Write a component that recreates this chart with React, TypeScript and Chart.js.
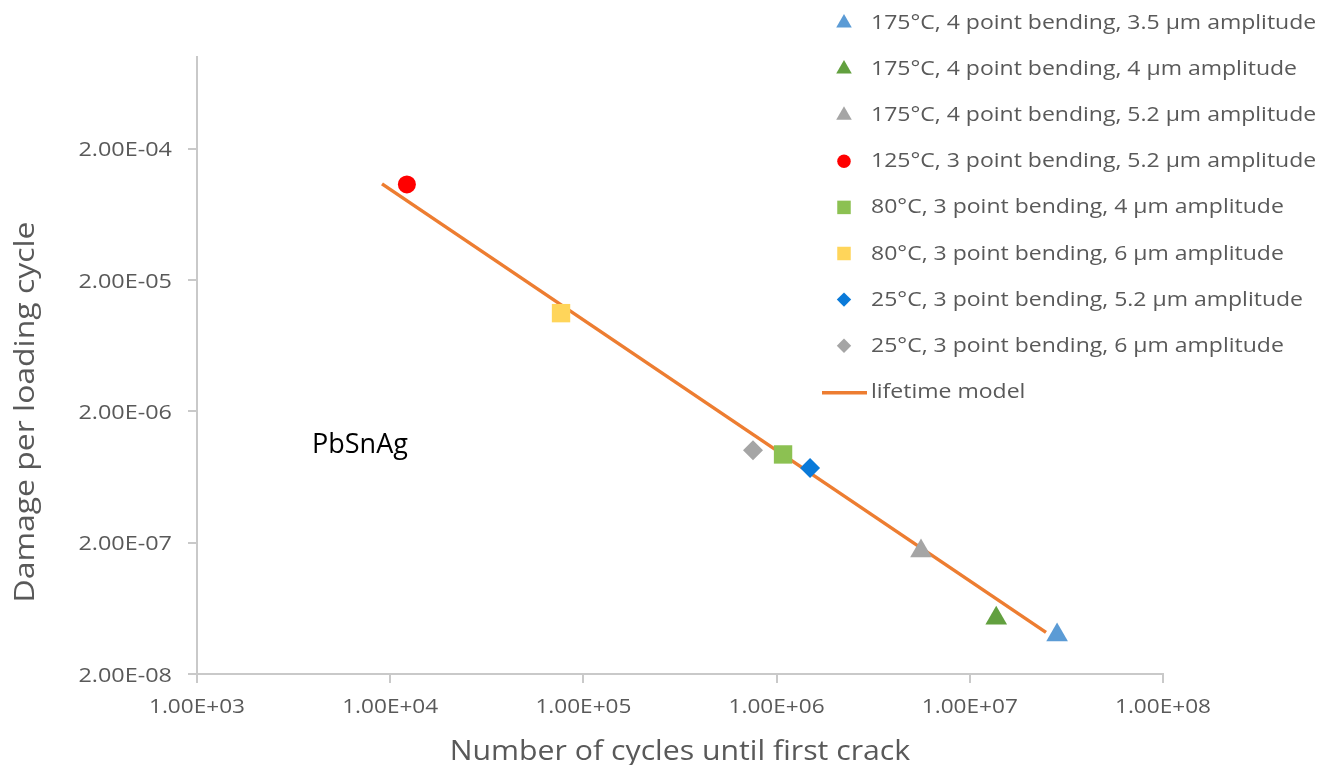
import React, { useEffect, useRef } from "react";
import { Chart, registerables } from "chart.js";

Chart.register(...registerables);

// Test series: one measured point per loading condition
const seriesLabels = [
  "175°C, 4 point bending, 3.5 µm amplitude",
  "175°C, 4 point bending, 4 µm amplitude",
  "175°C, 4 point bending, 5.2 µm amplitude",
  "125°C, 3 point bending, 5.2 µm amplitude",
  "80°C, 3 point bending, 4 µm amplitude",
  "80°C, 3 point bending, 6 µm amplitude",
  "25°C, 3 point bending, 5.2 µm amplitude",
  "25°C, 3 point bending, 6 µm amplitude",
];
const cyclesToCrack = [2.83e7, 1.37e7, 5.59e6, 1.22e4, 1.08e6, 7.66e4, 1.49e6, 7.55e5];
const damagePerCycle = [3.97e-8, 5.31e-8, 1.73e-7, 1.07e-4, 9.4e-7, 1.12e-5, 7.4e-7, 1.01e-6];
const markerColors = ["#5B9BD5", "#62A03F", "#A5A5A5", "#FF0000", "#8CC152", "#FFD55A", "#0A7AD9", "#A5A5A5"];
const markerStyles = ["triangle", "triangle", "triangle", "circle", "rect", "rect", "rectRot", "rectRot"];

// Lifetime model line
const modelLabel = "lifetime model";
const modelCycles = [9.07e3, 2.48e7];
const modelDamage = [1.08e-4, 4.15e-8];
const modelColor = "#ED7D31";

// Axis ticks
const xTickValues = [1e3, 1e4, 1e5, 1e6, 1e7, 1e8];
const yTickValues = [2e-8, 2e-7, 2e-6, 2e-5, 2e-4];

const xTitle = "Number of cycles until first crack";
const yTitle = "Damage per loading cycle";
const noteText = "PbSnAg";

const FONT = "'Open Sans', sans-serif";
const TEXT_GREY = "#595959";
const AXIS_GREY = "#C9C9C9";

function sci(v: number): string {
  const exp = Math.floor(Math.log10(v) + 1e-9);
  const mant = v / Math.pow(10, exp);
  const sign = exp < 0 ? "-" : "+";
  const e = Math.abs(exp).toString().padStart(2, "0");
  return `${mant.toFixed(2)}E${sign}${e}`;
}

// Text drawn with a slight horizontal widening (wide sans look)
function wideText(
  ctx: CanvasRenderingContext2D,
  text: string,
  x: number,
  y: number,
  sx: number,
  align: CanvasTextAlign,
  rotate = 0
) {
  ctx.save();
  ctx.translate(x, y);
  if (rotate) ctx.rotate(rotate);
  ctx.scale(sx, 1);
  ctx.textAlign = align;
  ctx.textBaseline = "alphabetic";
  ctx.fillText(text, 0, 0);
  ctx.restore();
}

function drawMarker(ctx: CanvasRenderingContext2D, style: string, x: number, y: number, r: number, color: string) {
  ctx.save();
  ctx.fillStyle = color;
  ctx.beginPath();
  if (style === "triangle") {
    const w = r * Math.sqrt(3);
    ctx.moveTo(x, y - r);
    ctx.lineTo(x + w / 2, y + r / 2);
    ctx.lineTo(x - w / 2, y + r / 2);
    ctx.closePath();
  } else if (style === "circle") {
    ctx.arc(x, y, r * 0.75, 0, Math.PI * 2);
  } else if (style === "rect") {
    const h = r * 0.75;
    ctx.rect(x - h, y - h, 2 * h, 2 * h);
  } else {
    const h = r * 0.8;
    ctx.moveTo(x, y - h);
    ctx.lineTo(x + h, y);
    ctx.lineTo(x, y + h);
    ctx.lineTo(x - h, y);
    ctx.closePath();
  }
  ctx.fill();
  ctx.restore();
}

const decorations = {
  id: "decorations",
  afterDraw(chart: any) {
    const ctx: CanvasRenderingContext2D = chart.ctx;
    const xs = chart.scales.x;
    const ys = chart.scales.y;
    ctx.save();
    ctx.fillStyle = TEXT_GREY;

    // Tick labels
    ctx.font = `20px ${FONT}`;
    yTickValues.forEach((v) => {
      wideText(ctx, sci(v), 172, ys.getPixelForValue(v) + 7.5, 1.17, "right");
    });
    xTickValues.forEach((v) => {
      wideText(ctx, sci(v), xs.getPixelForValue(v), 713, 1.13, "center");
    });

    // Axis titles
    ctx.font = `28px ${FONT}`;
    wideText(ctx, xTitle, 680, 760, 1.08, "center");
    wideText(ctx, yTitle, 34, 412, 1.14, "center", -Math.PI / 2);

    // Material note
    ctx.fillStyle = "#000000";
    ctx.font = `27px ${FONT}`;
    wideText(ctx, noteText, 312, 453, 1.0, "left");

    // Legend
    const base0 = 29;
    const rowStep = 46.1;
    ctx.font = `20px ${FONT}`;
    seriesLabels.forEach((label, i) => {
      const yb = base0 + i * rowStep;
      drawMarker(ctx, markerStyles[i], 844, yb - 6, 9, markerColors[i]);
      ctx.fillStyle = TEXT_GREY;
      wideText(ctx, label, 871, yb, 1.15, "left");
    });
    const lb = base0 + seriesLabels.length * rowStep;
    ctx.strokeStyle = modelColor;
    ctx.lineWidth = 3.5;
    ctx.beginPath();
    ctx.moveTo(822, lb - 5);
    ctx.lineTo(867, lb - 5);
    ctx.stroke();
    ctx.fillStyle = TEXT_GREY;
    wideText(ctx, modelLabel, 871, lb, 1.15, "left");

    ctx.restore();
  },
};

export default function App() {
  const canvasRef = useRef<HTMLCanvasElement | null>(null);

  useEffect(() => {
    document.body.style.margin = "0";
    const canvas = canvasRef.current;
    if (!canvas) return;

    const pointDatasets = seriesLabels.map((label, i) => ({
      type: "scatter" as const,
      label,
      data: [{ x: cyclesToCrack[i], y: damagePerCycle[i] }],
      pointStyle: markerStyles[i],
      pointRadius: markerStyles[i] === "circle" ? 9 : markerStyles[i] === "rect" ? 13 : markerStyles[i] === "rectRot" ? 10 : 12.5,
      pointBackgroundColor: markerColors[i],
      pointBorderWidth: 0,
      borderWidth: 0,
      showLine: false,
    }));

    const modelDataset = {
      type: "line" as const,
      label: modelLabel,
      data: modelCycles.map((x, i) => ({ x, y: modelDamage[i] })),
      borderColor: modelColor,
      borderWidth: 3.5,
      pointRadius: 0,
      fill: false,
    };

    const chart = new Chart(canvas, {
      type: "scatter",
      data: { datasets: [...pointDatasets, modelDataset] as any },
      options: {
        responsive: false,
        animation: false,
        layout: { padding: { top: 57, right: 167, left: 0, bottom: 0 } },
        plugins: { legend: { display: false }, tooltip: { enabled: false } },
        scales: {
          x: {
            type: "logarithmic",
            position: "bottom",
            min: 1e3,
            max: 1e8,
            afterBuildTicks: (scale: any) => {
              scale.ticks = xTickValues.map((value) => ({ value }));
            },
            afterFit: (scale: any) => {
              scale.height = 91;
            },
            grid: { drawOnChartArea: false, tickLength: 9, color: AXIS_GREY, lineWidth: 2 },
            border: { color: AXIS_GREY, width: 2 },
            ticks: { display: false, autoSkip: false, maxRotation: 0 },
          },
          y: {
            type: "logarithmic",
            position: "left",
            min: 2e-8,
            max: 1e-3,
            afterBuildTicks: (scale: any) => {
              scale.ticks = yTickValues.map((value) => ({ value }));
            },
            afterFit: (scale: any) => {
              scale.width = 197;
            },
            grid: { drawOnChartArea: false, tickLength: 9, color: AXIS_GREY, lineWidth: 2 },
            border: { color: AXIS_GREY, width: 2 },
            ticks: { display: false, autoSkip: false },
          },
        },
      } as any,
      plugins: [decorations],
    });

    return () => chart.destroy();
  }, []);

  return (
    <div style={{ width: 1330, height: 765, background: "#ffffff" }}>
      <canvas ref={canvasRef} width={1330} height={765} />
    </div>
  );
}
